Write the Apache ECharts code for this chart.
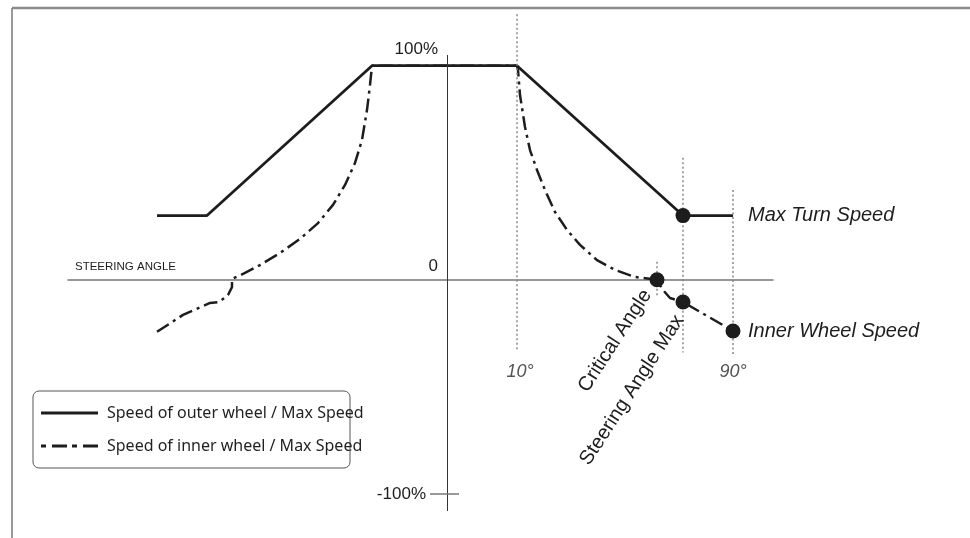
<!DOCTYPE html>
<html>
<head>
<meta charset="utf-8">
<script src="https://cdn.jsdelivr.net/npm/echarts@6/dist/echarts.min.js"></script>
<style>
  html, body { margin: 0; padding: 0; background: #fff; }
  #main { width: 970px; height: 538px; }
</style>
</head>
<body>
<div id="main"></div>
<script>
// schematic x positions (steering angle, not to scale), y in % of max speed
const outerX = [-290, -240, -75, 70, 236, 286];
const outerY = [30, 30, 100, 100, 30, 30];

const innerX = [-290, -264, -237, -228, -219, -215, -215, -202, -187, -167, -147, -129, -114, -102, -92, -85, -80, -77, -75,
                70, 71, 73, 78, 83, 90, 98, 108, 120, 133, 150, 168, 188, 210, 216, 223, 236, 286];
const innerY = [-24.3, -16.4, -10.8, -10.4, -7.1, -3.4, 0.4, 3.2, 6.9, 12.5, 19.1, 26.5, 35, 44.3, 54.6, 65.3, 79.3, 91, 100,
                100, 98, 86.3, 71.4, 60.6, 51.3, 41.9, 31.7, 23.3, 16.3, 9.2, 4.6, 1.3, 0, -4.8, -8.5, -10.4, -23.9];

// critical angle, steering angle max (inner), 90 deg (inner), steering angle max (outer)
const markerX = [210, 236, 286, 236];
const markerY = [0, -10.4, -23.9, 30];

// dotted guides: 10 deg, steering angle max, 90 deg, critical angle
const guideX = [70, 236, 286, 210];
const guideTop = [124, 57, 42, 8.4];
const guideBottom = [-33, -34, -35.5, -8];

// vertical speed axis extent and its one tick
const speedAxisRange = [105, -108];
const speedTick = -100;

const seriesNames = ['Speed of outer wheel / Max Speed', 'Speed of inner wheel / Max Speed'];
const tickLabels = ['100%', '0', '-100%'];
const axisTitle = 'STEERING ANGLE';
const angleLabels = ['10°', '90°'];
const speedLabels = ['Max Turn Speed', 'Inner Wheel Speed'];
const angleNames = ['Critical Angle', 'Steering Angle Max'];

const ink = '#1d1d1d';
const font = 'Liberation Sans, Arial, sans-serif';

function zip(xs, ys) {
    return xs.map(function (x, i) { return [x, ys[i]]; });
}

function note(x, y, text, style) {
    return {
        value: [x, y],
        label: Object.assign({
            show: true, position: 'inside', formatter: text,
            fontFamily: font, color: ink, align: 'center', verticalAlign: 'middle'
        }, style)
    };
}

const guideLines = guideX.map(function (x, i) {
    return [{coord: [x, guideTop[i]]}, {coord: [x, guideBottom[i]]}];
});

const notes = [
    note(-9, 107.5, tickLabels[0], {align: 'right', fontSize: 17}),
    note(-9, 6.5, tickLabels[1], {align: 'right', fontSize: 17}),
    note(-21, speedTick, tickLabels[2], {align: 'right', fontSize: 17}),
    note(-372, 6, axisTitle, {align: 'left', fontSize: 11.5}),
    note(guideX[0] + 3, -43, angleLabels[0], {fontSize: 18, fontStyle: 'italic', color: '#555'}),
    note(guideX[2], -43, angleLabels[1], {fontSize: 18, fontStyle: 'italic', color: '#555'}),
    note(301, markerY[3], speedLabels[0], {align: 'left', fontSize: 20, fontStyle: 'italic'}),
    note(301, markerY[2], speedLabels[1], {align: 'left', fontSize: 20, fontStyle: 'italic'}),
    note(168, -28.5, angleNames[0], {fontSize: 20, rotate: 57}),
    note(185, -51.5, angleNames[1], {fontSize: 20, rotate: 57})
];

const myChart = echarts.init(document.getElementById('main'));
const option = {
    backgroundColor: '#fff',
    animation: false,
    grid: {left: 68, right: 197, top: 1.5, bottom: 27},
    xAxis: {
        type: 'value', min: -379, max: 326,
        axisLine: {show: true, onZero: true, lineStyle: {color: '#777', width: 1.5}},
        axisTick: {show: false}, axisLabel: {show: false}, splitLine: {show: false}
    },
    yAxis: {
        type: 'value', min: -108, max: 130,
        axisLine: {show: false},
        axisTick: {show: false}, axisLabel: {show: false}, splitLine: {show: false}
    },
    legend: {
        orient: 'vertical', left: 41, top: 405, padding: 0,
        itemWidth: 57, itemHeight: 3, itemGap: 17,
        data: [
            {name: seriesNames[0], icon: 'path://M0,0H57V3H0Z'},
            {name: seriesNames[1], icon: 'path://M0,0h5v3h-5z M11,0h15v3h-15z M31,0h5v3h-5z M42,0h15v3h-15z'}
        ],
        itemStyle: {color: ink},
        textStyle: {fontFamily: 'Noto Sans', fontSize: 16, lineHeight: 16, color: '#231f20', padding: [0, 0, 0, 4]}
    },
    graphic: [
        {type: 'line', shape: {x1: 12, y1: 8, x2: 970, y2: 8}, style: {stroke: '#8c8c8c', lineWidth: 2.5}},
        {type: 'line', shape: {x1: 12, y1: 8, x2: 12, y2: 538}, style: {stroke: '#777', lineWidth: 1.5}},
        {type: 'rect', shape: {x: 33, y: 391, width: 317, height: 77, r: 6},
         style: {fill: 'none', stroke: '#555', lineWidth: 1}}
    ],
    series: [
        {
            name: 'guides', type: 'line', data: [], clip: false, silent: true,
            markLine: {
                silent: true, symbol: 'none', label: {show: false},
                lineStyle: {color: '#888', width: 1.5, type: [2, 2.5]},
                data: guideLines.concat([
                    [{coord: [0, speedAxisRange[0]], lineStyle: {type: 'solid', color: '#333', width: 1}},
                     {coord: [0, speedAxisRange[1]]}],
                    [{coord: [-17, speedTick], lineStyle: {type: 'solid', color: '#777'}}, {coord: [12, speedTick]}]
                ])
            }
        },
        {
            name: seriesNames[1], type: 'line', data: zip(innerX, innerY),
            symbol: 'none', clip: false, z: 3,
            lineStyle: {color: ink, width: 2.5, type: [14, 5, 3, 5]},
            itemStyle: {color: ink}
        },
        {
            name: seriesNames[0], type: 'line', data: zip(outerX, outerY),
            symbol: 'none', clip: false, z: 4,
            lineStyle: {color: ink, width: 2.8},
            itemStyle: {color: ink}
        },
        {
            name: 'markers', type: 'scatter', data: zip(markerX, markerY),
            symbol: 'circle', symbolSize: 15, z: 5, silent: true,
            itemStyle: {color: ink, opacity: 1}
        },
        {
            name: 'notes', type: 'scatter', data: notes, symbolSize: 1, z: 6, silent: true,
            itemStyle: {color: 'rgba(0,0,0,0)', opacity: 1}
        }
    ]
};
myChart.setOption(option);
</script>
</body>
</html>
